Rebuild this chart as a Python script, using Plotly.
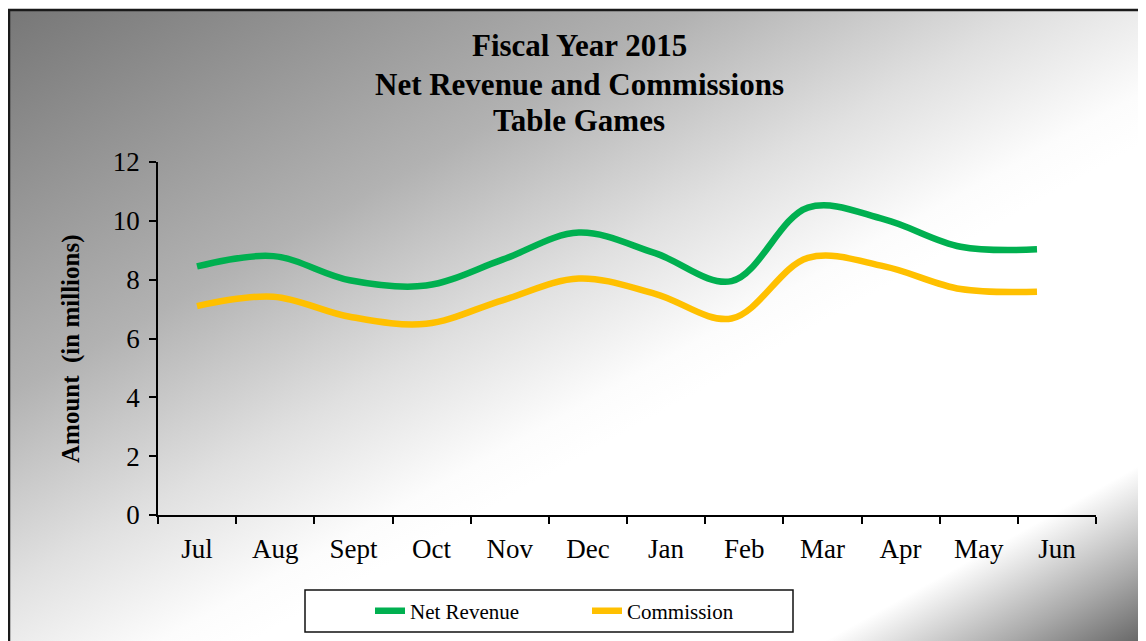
import base64

import plotly.graph_objects as go

W, H = 1146, 641
OFF = 8  # page body margin: the figure lands 8px right and down

months = ["Jul", "Aug", "Sept", "Oct", "Nov", "Dec",
          "Jan", "Feb", "Mar", "Apr", "May", "Jun"]
net_revenue = [8.45, 8.80, 7.98, 7.80, 8.68, 9.60, 8.90, 7.95, 10.45, 10.05, 9.12, 9.03]
commission = [7.10, 7.42, 6.74, 6.50, 7.30, 8.04, 7.52, 6.68, 8.74, 8.45, 7.68, 7.59]
title_lines = ["Fiscal Year 2015", "Net Revenue and Commissions", "Table Games"]

GREEN = "#00B050"
GOLD = "#FFC000"
SERIF = "Liberation Serif, Times New Roman, serif"


def px(x):
    return (x - OFF) / W


def py(y):
    return 1 - (y - OFF) / H


# diagonal grey -> white -> grey backdrop, like the Excel chart area fill
svg = (
    '<svg xmlns="http://www.w3.org/2000/svg" width="1146" height="641" '
    'viewBox="0 0 1146 641" preserveAspectRatio="none">'
    '<defs><linearGradient id="g" x1="0" y1="0" x2="1" y2="1">'
    '<stop offset="0" stop-color="#777777"/>'
    '<stop offset="0.3" stop-color="#b2b2b2"/>'
    '<stop offset="0.45" stop-color="#e0e0e0"/>'
    '<stop offset="0.56" stop-color="#fcfcfc"/>'
    '<stop offset="0.6" stop-color="#ffffff"/>'
    '<stop offset="0.85" stop-color="#ffffff"/>'
    '<stop offset="0.93" stop-color="#aaaaaa"/>'
    '<stop offset="1" stop-color="#5a5a5a"/>'
    '</linearGradient></defs>'
    '<rect x="0" y="0" width="1146" height="641" fill="url(#g)"/></svg>'
)
bg_src = "data:image/svg+xml;base64," + base64.b64encode(svg.encode()).decode()

# in the original the plotted series sit on a slightly tighter grid than the
# category labels (Jul at 197px, Jun at 1037px): lines get x, labels get x2
X0, X1 = 158, 1096          # plot area
LINE_FIRST, LINE_LAST = 197, 1037
unit = (LINE_LAST - LINE_FIRST) / (len(months) - 1)
line_range = [-(LINE_FIRST - X0) / unit, (len(months) - 1) + (X1 - LINE_LAST) / unit]

fig = go.Figure()
fig.add_trace(go.Scatter(
    x=months, y=net_revenue, name="Net Revenue", mode="lines",
    line=dict(color=GREEN, width=6.5, shape="spline", smoothing=1)))
fig.add_trace(go.Scatter(
    x=months, y=commission, name="Commission", mode="lines",
    line=dict(color=GOLD, width=6.5, shape="spline", smoothing=1)))
# empty carrier so the label axis knows its categories
fig.add_trace(go.Scatter(
    x=months, y=[None] * len(months), xaxis="x2", mode="lines",
    showlegend=False, hoverinfo="skip"))

annotations = [
    dict(text=f"<b>{t}</b>", xref="paper", yref="paper", x=px(579), y=py(yc),
         xanchor="center", yanchor="middle", showarrow=False,
         font=dict(family=SERIF, size=31, color="black"))
    for t, yc in zip(title_lines, [45, 84, 121])
]
annotations.append(dict(
    text="<b>Amount  (in millions)</b>",
    xref="paper", yref="paper", x=px(71), y=py(349),
    xanchor="center", yanchor="middle", textangle=-90, showarrow=False,
    font=dict(family=SERIF, size=25, color="black")))

fig.update_layout(
    width=W, height=H,
    margin=dict(l=0, r=0, t=0, b=0, autoexpand=False),
    paper_bgcolor="white", plot_bgcolor="rgba(0,0,0,0)",
    font=dict(family=SERIF, size=27, color="black"),
    showlegend=True,
    legend=dict(orientation="h", x=px(370), y=py(611), xanchor="left", yanchor="middle",
                bgcolor="rgba(0,0,0,0)", borderwidth=0,
                font=dict(family=SERIF, size=21, color="black"),
                entrywidth=172, entrywidthmode="pixels"),
    images=[dict(source=bg_src, xref="paper", yref="paper",
                 x=px(9), y=py(10), sizex=(W - 1) / W, sizey=(H - 2) / H,
                 xanchor="left", yanchor="top", sizing="stretch", layer="below")],
    shapes=[
        dict(type="rect", xref="paper", yref="paper",
             x0=px(9), x1=px(W + 20), y0=py(H + 20), y1=py(10),
             line=dict(color="#1a1a1a", width=2.5), layer="below"),
        dict(type="rect", xref="paper", yref="paper",
             x0=px(305), x1=px(793), y0=py(632), y1=py(590),
             fillcolor="white", line=dict(color="#111111", width=1.5), layer="below"),
    ],
    annotations=annotations,
    xaxis=dict(
        domain=[px(X0), px(X1)], type="category", range=line_range, automargin=False,
        showticklabels=False, ticks="", showline=False,
        showgrid=False, zeroline=False,
    ),
    xaxis2=dict(
        type="category", overlaying="x", anchor="y", side="bottom",
        range=[-0.5, len(months) - 0.5], automargin=False,
        showline=True, linecolor="black", linewidth=1.5,
        ticks="outside", ticklen=7, tickcolor="black", tickwidth=1.5,
        tickson="boundaries", showgrid=False, zeroline=False,
        ticklabelstandoff=9, tickfont=dict(family=SERIF, size=27),
    ),
    yaxis=dict(
        domain=[py(515), py(162)], range=[0, 12], dtick=2, automargin=False,
        showline=True, linecolor="black", linewidth=1.5,
        ticks="outside", ticklen=7, tickcolor="black", tickwidth=1.5,
        showgrid=False, zeroline=False,
        ticklabelstandoff=4, tickfont=dict(family=SERIF, size=27),
    ),
)

fig.write_html("out.html")
